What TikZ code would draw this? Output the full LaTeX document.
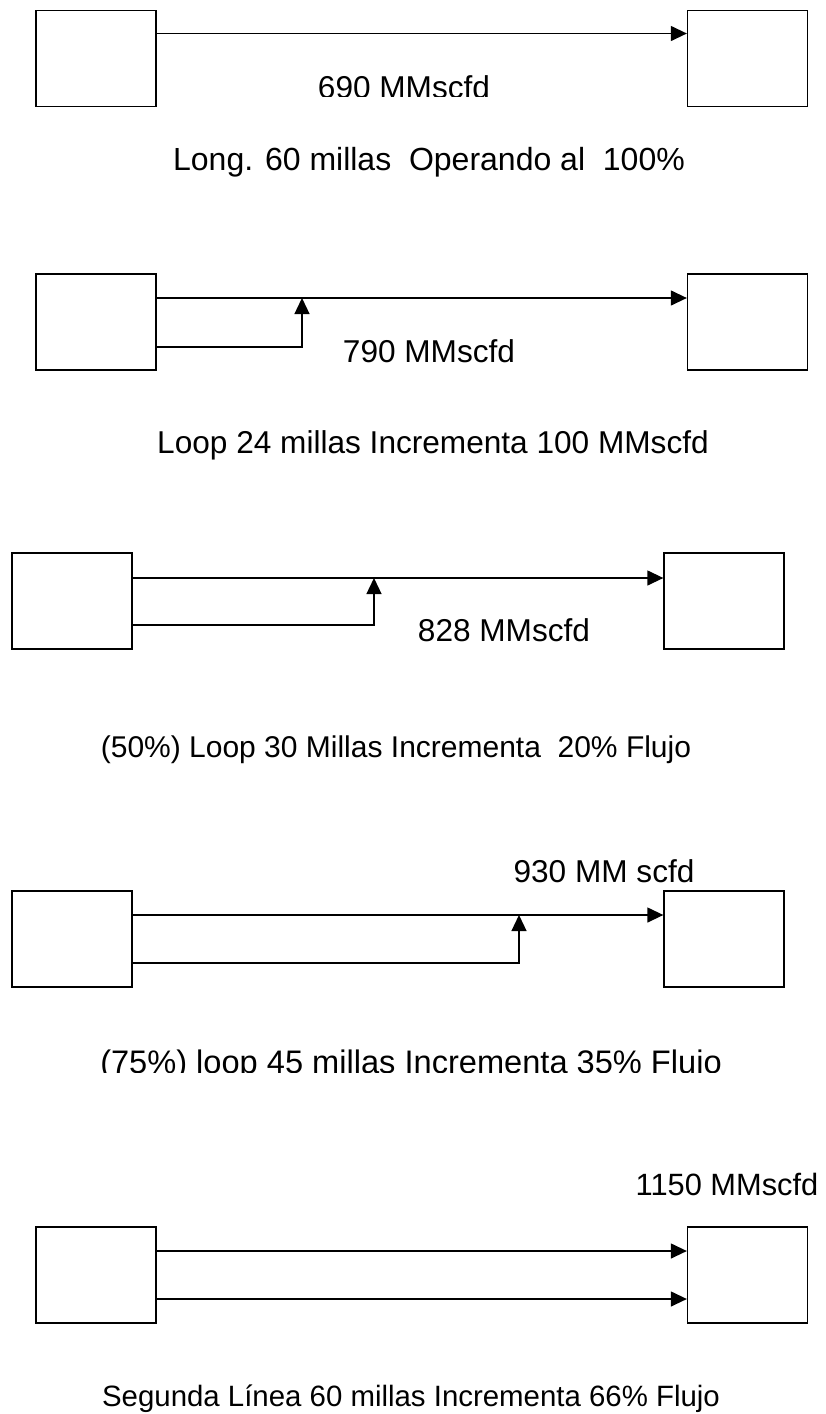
\documentclass[tikz,border=0pt]{standalone}
\usepackage{fontspec}
\setmainfont{Liberation Sans}
\usetikzlibrary{arrows.meta,positioning}

\begin{document}
\begin{tikzpicture}[x=0.5pt, y=-0.5pt,
    every node/.style={font=\fontsize{15.8}{19}\selectfont, inner sep=0pt},
    planta/.style={draw, line width=0.65pt, minimum width=60pt, minimum height=48pt},
    flujo/.style={line width=0.65pt, -{Triangle[length=8pt,width=7.5pt]}}]
  \useasboundingbox (0,0) rectangle (825,1414);

  % caso 1: linea sola
  \node[planta] (o1) at (96,58.5) {};
  \node[planta] (d1) at (747.5,58.5) {};
  \draw[flujo] ([yshift=12.5pt]o1.east) -- ([yshift=12.5pt]o1.east -| d1.west);
  \begin{scope}
    \clip (0,0) rectangle (825,96.5);
    \node[anchor=base] (q1) at (404,98) {690 MMscfd};
  \end{scope}
  \node[anchor=base, font=\fontsize{16}{19}\selectfont] (t1) at (429,170) {Long. 60 millas\ \ Operando al\ \ 100\%};

  % caso 2: loop 24 millas
  \node[planta] (o2) at (96,322) {};
  \node[planta] (d2) at (747.5,322) {};
  \coordinate (j2) at (302,298);
  \draw[flujo] ([yshift=12pt]o2.east) -- ([yshift=12pt]o2.east -| d2.west);
  \draw[flujo] ([yshift=-12.5pt]o2.east) -| (j2);
  \node[anchor=base] (q2) at (429,362) {790 MMscfd};
  \node[anchor=base] (t2) at (433,453) {Loop 24 millas Incrementa 100 MMscfd};

  % caso 3: loop 50%
  \node[planta] (o3) at (72,601) {};
  \node[planta] (d3) at (724,601) {};
  \coordinate (j3) at (374,578);
  \draw[flujo] ([yshift=11.5pt]o3.east) -- ([yshift=11.5pt]o3.east -| d3.west);
  \draw[flujo] ([yshift=-12pt]o3.east) -| (j3);
  \node[anchor=base] (q3) at (504,641) {828 MMscfd};
  \node[anchor=base, font=\fontsize{15}{18}\selectfont] (t3) at (396,757) {(50\%) Loop 30 Millas Incrementa\ \ 20\% Flujo};

  % caso 4: loop 75%
  \node[planta] (o4) at (72,939) {};
  \node[planta] (d4) at (724,939) {};
  \coordinate (j4) at (519,915);
  \draw[flujo] ([yshift=12pt]o4.east) -- ([yshift=12pt]o4.east -| d4.west);
  \draw[flujo] ([yshift=-12pt]o4.east) -| (j4);
  \node[anchor=base] (q4) at (604,882) {930 MM scfd};
  \begin{scope}
    \clip (0,1000) rectangle (825,1072.5);
    \node[anchor=base, font=\fontsize{16.3}{19}\selectfont] (t4) at (411,1073) {(75\%) loop 45 millas Incrementa 35\% Flujo};
  \end{scope}

  % caso 5: segunda linea
  \node[planta] (o5) at (96,1275) {};
  \node[planta] (d5) at (747.5,1275) {};
  \draw[flujo] ([yshift=12pt]o5.east) -- ([yshift=12pt]o5.east -| d5.west);
  \draw[flujo] ([yshift=-12pt]o5.east) -- ([yshift=-12pt]o5.east -| d5.west);
  \node[anchor=base, font=\fontsize{15.4}{18}\selectfont] (q5) at (727,1195) {1150 MMscfd};
  \node[anchor=base, font=\fontsize{14.7}{18}\selectfont] (t5) at (411,1406) {Segunda Línea 60 millas Incrementa 66\% Flujo};
\end{tikzpicture}
\end{document}
